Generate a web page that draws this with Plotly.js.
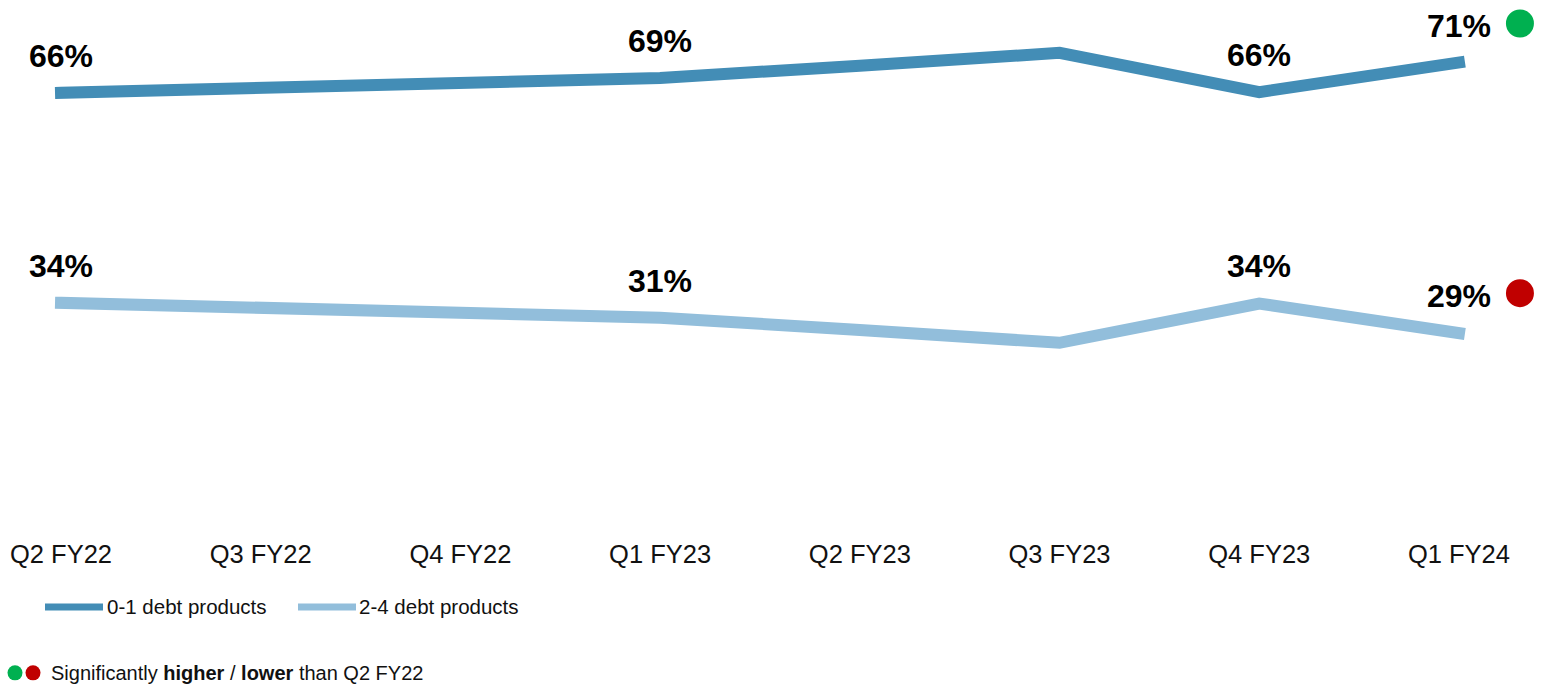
<!DOCTYPE html>
<html>
<head>
<meta charset="utf-8">
<script src="https://cdn.plot.ly/plotly-3.0.1.min.js"></script>
<style>
  html, body { margin: 0; padding: 0; background: #fff; }
  #chart { width: 1555px; height: 685px; }
  #chart path.js-line { stroke-linecap: square; stroke-linejoin: miter; }
</style>
</head>
<body>
<div id="chart"></div>
<script>
// ---- data ----
const categories = ['Q2 FY22', 'Q3 FY22', 'Q4 FY22', 'Q1 FY23', 'Q2 FY23', 'Q3 FY23', 'Q4 FY23', 'Q1 FY24'];
const seriesNames = ['0-1 debt products', '2-4 debt products'];
const lowDebt  = [66.3, 67.1, 67.9, 68.6, 70.5, 72.5, 66.4, 71.0];
const highDebt = [33.7, 32.9, 32.1, 31.4, 29.5, 27.5, 33.6, 29.0];
const lowLabels  = ['66%', '', '', '69%', '', '', '66%', '71%'];
const highLabels = ['34%', '', '', '31%', '', '', '34%', '29%'];
const sigPoint = 7;                       // index of flagged point
const sigFlags = ['higher', 'lower'];     // flag per series
const footnote = 'Significantly <b>higher</b> / <b>lower</b> than Q2 FY22';

// ---- styling ----
const colors = ['#438DB6', '#92BEDB'];
const sigColors = { higher: '#00B050', lower: '#C00000' };
const W = 1555, H = 685, T = 0, B = 164.5;
const plotH = H - T - B;
const px2paperX = px => px / W;
const px2paperY = py => (plotH + T - py) / plotH;

const series = [lowDebt, highDebt];
const labels = [lowLabels, highLabels];

const traces = series.map((vals, s) => ({
  type: 'scatter',
  mode: 'lines',
  x: categories,
  y: vals,
  name: seriesNames[s],
  line: { color: colors[s], width: 12 },
  showlegend: false,
  hoverinfo: 'skip'
}));

const annotations = [];
labels.forEach((labs, s) => {
  labs.forEach((t, i) => {
    if (!t) return;
    annotations.push({
      x: categories[i], y: series[s][i], xref: 'x', yref: 'y',
      text: t, showarrow: false, yshift: 37,
      xanchor: 'center', yanchor: 'middle',
      font: { family: 'Liberation Sans, Arial, sans-serif', size: 32, color: '#000', weight: 'bold' }
    });
  });
});

const shapes = [];
// significance circles next to flagged point
series.forEach((vals, s) => {
  shapes.push({
    type: 'circle', xref: 'x', yref: 'y',
    xsizemode: 'pixel', ysizemode: 'pixel',
    xanchor: categories[sigPoint], yanchor: vals[sigPoint],
    x0: 47, x1: 75, y0: 25 + s, y1: 53 + s,
    fillcolor: sigColors[sigFlags[s]], line: { width: 0 }
  });
});

// legend (drawn in paper space)
const legendItems = [
  { x0: 45, x1: 103, tx: 105 },
  { x0: 298, x1: 356, tx: 357 }
];
const legendY = 607.5;
legendItems.forEach((it, s) => {
  shapes.push({
    type: 'line', xref: 'paper', yref: 'paper',
    x0: px2paperX(it.x0), x1: px2paperX(it.x1),
    y0: px2paperY(legendY), y1: px2paperY(legendY),
    line: { color: colors[s], width: 7 }
  });
  annotations.push({
    xref: 'paper', yref: 'paper', x: px2paperX(it.tx), y: px2paperY(legendY),
    xanchor: 'left', yanchor: 'middle', showarrow: false,
    text: seriesNames[s],
    font: { family: 'Liberation Sans, Arial, sans-serif', size: 20.5, color: '#111' }
  });
});

// footnote dots + text
const footY = 673.5;
[['higher', 15], ['lower', 33]].forEach(([k, cx]) => {
  shapes.push({
    type: 'circle', xref: 'paper', yref: 'paper',
    x0: px2paperX(cx - 7.5), x1: px2paperX(cx + 7.5),
    y0: px2paperY(footY - 7.5), y1: px2paperY(footY + 7.5),
    fillcolor: sigColors[k], line: { width: 0 }
  });
});
annotations.push({
  xref: 'paper', yref: 'paper', x: px2paperX(49), y: px2paperY(footY),
  xanchor: 'left', yanchor: 'middle', showarrow: false,
  text: footnote,
  font: { family: 'Liberation Sans, Arial, sans-serif', size: 20, color: '#111' }
});

const layout = {
  width: W, height: H,
  margin: { l: 0, r: 0, t: T, b: B, pad: 0 },
  paper_bgcolor: '#fff', plot_bgcolor: '#fff',
  showlegend: false,
  xaxis: {
    type: 'category',
    range: [-0.3055, 7.481],
    showgrid: false, zeroline: false, showline: false,
    ticks: '', ticklabelstandoff: 16,
    tickfont: { family: 'Liberation Sans, Arial, sans-serif', size: 25.5, color: '#111' },
    fixedrange: true
  },
  yaxis: {
    range: [0, 80.7],
    showgrid: false, zeroline: false, showline: false,
    showticklabels: false, ticks: '',
    fixedrange: true
  },
  annotations: annotations,
  shapes: shapes
};

Plotly.newPlot('chart', traces, layout, { displayModeBar: false, staticPlot: true });
</script>
</body>
</html>
